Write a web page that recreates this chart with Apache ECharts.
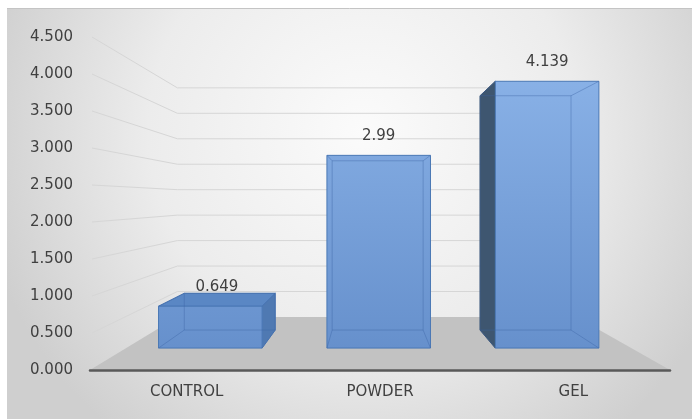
<!DOCTYPE html>
<html><head><meta charset="utf-8">
<script src="https://cdn.jsdelivr.net/npm/echarts@6/dist/echarts.min.js"></script>
<style>html,body{margin:0;padding:0;background:#fff}#c{width:692px;height:419px}</style>
</head><body><div id="c"></div>
<script>
const categories = ['CONTROL', 'POWDER', 'GEL'];
const values = [0.649, 2.99, 4.139];
const wallTicks = [0.5, 1.0, 1.5, 2.0, 2.5, 3.0, 3.5, 4.0, 4.5];

// perspective styling
const VP = [370, 200];
const S_FRONT = 0.871, S_BACK = 0.765, S_FLOOR = 0.688;
function P(x, y, s) { return [VP[0] + s * (x - VP[0]), VP[1] + s * (y - VP[1])]; }
const FONT = 'DejaVu Sans';
const FS = 15;

const chart = echarts.init(document.getElementById('c'), null, { renderer: 'canvas' });

const floorSeries = {
  type: 'custom', z: 1, silent: true,
  data: [[0, 0]],
  renderItem(params, api) {
    const cs = params.coordSys;
    const yb = api.coord([0, 0])[1];
    const x0 = cs.x, x1 = cs.x + cs.width;
    return {
      type: 'polygon',
      shape: { points: [[x0, yb], [x1, yb], P(x1, yb, S_FLOOR), P(x0, yb, S_FLOOR)] },
      style: { fill: '#c2c2c2' }
    };
  }
};

const wallSeries = {
  type: 'custom', z: 1, silent: true,
  data: wallTicks.map(v => [0, v]),
  renderItem(params, api) {
    const cs = params.coordSys;
    const y = api.coord([0, api.value(1)])[1];
    const x0 = cs.x, x1 = cs.x + cs.width;
    return {
      type: 'polyline',
      shape: { points: [[x0 + 2, y], P(x0, y, S_FLOOR), P(x1, y, S_FLOOR)] },
      style: { stroke: '#d6d6d6', lineWidth: 1, fill: null }
    };
  }
};

const barSeries = {
  type: 'custom', z: 3,
  data: values.map((v, i) => [i, v]),
  renderItem(params, api) {
    const i = api.value(0), v = api.value(1);
    const base = api.coord([i, 0]), top = api.coord([i, v]);
    const hw = api.size([1, 0])[0] * 0.615 / 2;
    const xL = base[0] - hw, xR = base[0] + hw, yB = base[1], yT = top[1];
    const F = (x, y) => P(x, y, S_FRONT), B = (x, y) => P(x, y, S_BACK);
    const fLT = F(xL, yT), fRT = F(xR, yT), fRB = F(xR, yB), fLB = F(xL, yB);
    const bLT = B(xL, yT), bRT = B(xR, yT), bRB = B(xR, yB), bLB = B(xL, yB);
    const edge = '#4a78b5';
    const ch = [];
    if (fLT[0] > VP[0]) ch.push({ type: 'polygon', shape: { points: [fLT, bLT, bLB, fLB] }, style: { fill: '#3e5670', stroke: '#3a5068', lineWidth: 1 } });
    if (fRT[0] < VP[0]) ch.push({ type: 'polygon', shape: { points: [fRT, bRT, bRB, fRB] }, style: { fill: '#4f79b2', stroke: edge, lineWidth: 1 } });
    const topVis = fLT[1] > VP[1];
    if (topVis) ch.push({ type: 'polygon', shape: { points: [fLT, fRT, bRT, bLT] }, style: { fill: '#5a87c4', stroke: edge, lineWidth: 1 } });
    ch.push({
      type: 'polygon', shape: { points: [fLT, fRT, fRB, fLB] },
      style: {
        fill: { type: 'linear', global: true, x: 0, y: 60, x2: 0, y2: 350,
          colorStops: [{ offset: 0, color: '#8bb3e8' }, { offset: 1, color: '#6690cc' }] },
        stroke: edge, lineWidth: 1
      }
    });
    const hid = 'rgba(60,100,165,0.4)';
    ch.push({ type: 'polyline', shape: { points: [bLT, bRT, bRB, bLB, bLT] }, style: { stroke: hid, lineWidth: 1, fill: null } });
    [[fLT, bLT], [fRT, bRT], [fRB, bRB], [fLB, bLB]].forEach(pr => {
      ch.push({ type: 'line', shape: { x1: pr[0][0], y1: pr[0][1], x2: pr[1][0], y2: pr[1][1] }, style: { stroke: hid, lineWidth: 1 } });
    });
    let lx, ly;
    if (topVis) {
      lx = (Math.min(fLT[0], bLT[0]) + Math.max(fRT[0], bRT[0])) / 2;
      ly = Math.min(bLT[1], fLT[1]) + 1;
    } else {
      lx = (fLT[0] + fRT[0]) / 2;
      ly = fLT[1] - 12;
    }
    ch.push({ type: 'text', x: lx, y: ly, z2: 10,
      style: { text: String(v), fill: '#404040', fontSize: FS, fontFamily: FONT, align: 'center', verticalAlign: 'bottom' } });
    return { type: 'group', children: ch };
  }
};

chart.setOption({
  animation: false,
  graphic: [
    { type: 'rect', z: -10, silent: true, shape: { x: 7, y: 8, width: 685, height: 411 },
      style: { fill: { type: 'radial', x: 0.52, y: 0.3, r: 0.95,
        colorStops: [{ offset: 0, color: '#fbfbfb' }, { offset: 0.55, color: '#ececec' }, { offset: 1, color: '#cfcfcf' }] } } },
    { type: 'line', z: -9, silent: true, shape: { x1: 7, y1: 8.5, x2: 692, y2: 8.5 }, style: { stroke: '#c4c4c4', lineWidth: 1 } }
  ],
  grid: { left: 90, right: 22, top: 37, bottom: 49 },
  xAxis: {
    type: 'category', data: categories, z: 5,
    axisLine: { lineStyle: { color: '#595959', width: 2.5 } },
    axisTick: { show: false },
    axisLabel: { color: '#404040', fontSize: FS, fontFamily: FONT, margin: 15 }
  },
  yAxis: {
    type: 'value', min: 0, max: 4.5, interval: 0.5,
    axisLine: { show: false }, axisTick: { show: false }, splitLine: { show: false },
    axisLabel: { formatter: v => v.toFixed(3), color: '#404040', fontSize: FS, fontFamily: FONT, margin: 17 }
  },
  series: [floorSeries, wallSeries, barSeries]
});
</script></body></html>
